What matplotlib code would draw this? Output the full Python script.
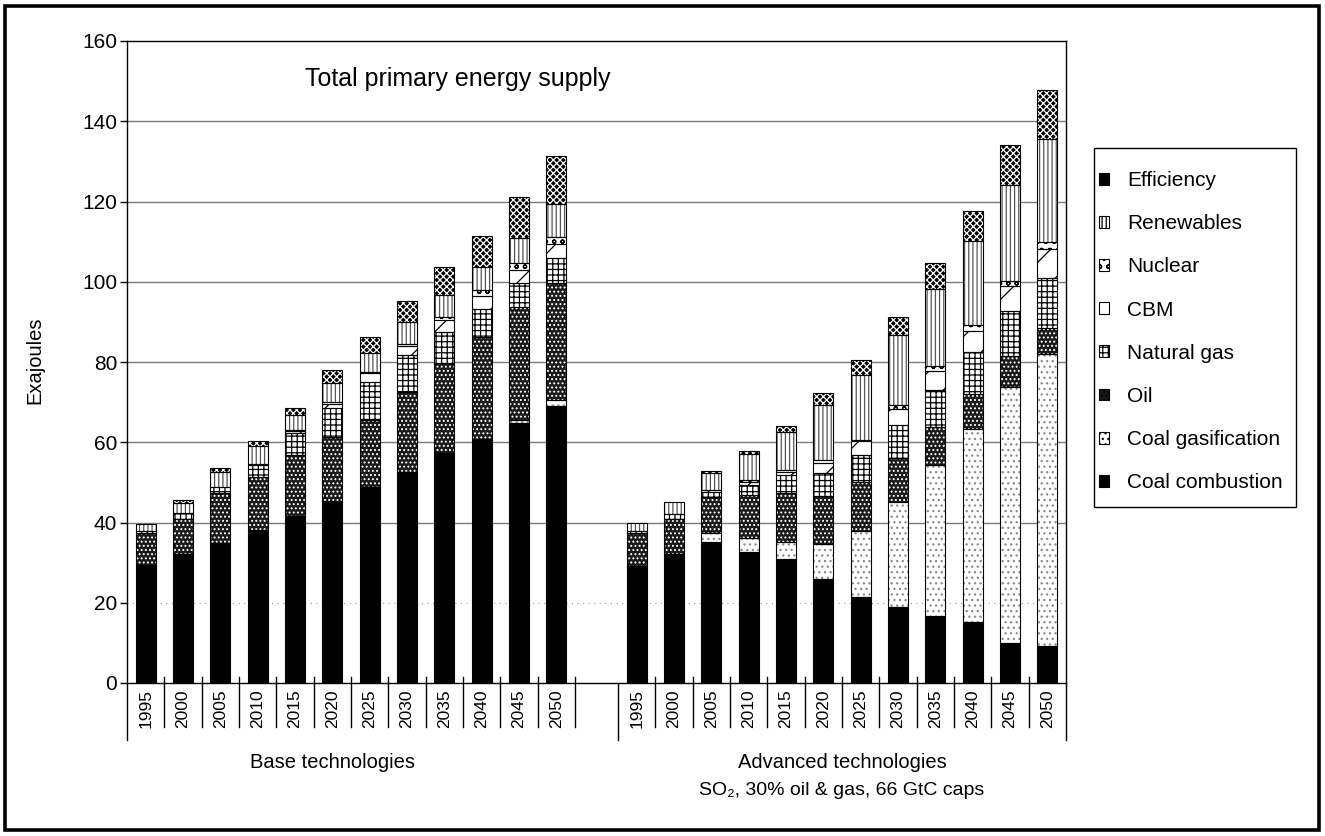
import matplotlib
matplotlib.use('Agg')
import matplotlib.pyplot as plt
from matplotlib.patches import Patch, Rectangle
from matplotlib import font_manager as fm
import numpy as np

# ---------------- data ----------------
years = ['1995', '2000', '2005', '2010', '2015', '2020',
         '2025', '2030', '2035', '2040', '2045', '2050']
series = ['Coal combustion', 'Coal gasification', 'Oil', 'Natural gas',
          'CBM', 'Nuclear', 'Renewables', 'Efficiency']
group_labels = ['Base technologies', 'Advanced technologies']
group_sublabel = 'SO\u2082, 30% oil & gas, 66 GtC caps'
title = 'Total primary energy supply'
ylabel = 'Exajoules'

# Base technologies
base_coal_comb = [29.4, 32.1, 35.0, 38.1, 41.6, 45.4, 48.9, 52.7, 57.2, 60.8, 64.7, 69.1]
base_coal_gas  = [0.0, 0.0, 0.0, 0.0, 0.0, 0.0, 0.0, 0.0, 0.0, 0.0, 0.8, 1.4]
base_oil       = [7.9, 8.7, 12.4, 13.2, 15.2, 16.0, 16.6, 19.9, 22.6, 25.5, 28.3, 29.1]
base_natgas    = [0.5, 1.5, 1.5, 3.0, 5.4, 7.1, 9.6, 9.1, 7.8, 6.9, 6.0, 6.2]
base_cbm       = [0.0, 0.0, 0.0, 0.3, 0.5, 1.0, 2.1, 2.3, 2.9, 3.2, 3.1, 3.6]
base_nuclear   = [0.0, 0.0, 0.0, 0.0, 0.3, 0.5, 0.4, 0.6, 0.8, 1.5, 1.7, 1.7]
base_renew     = [1.8, 2.6, 3.8, 4.4, 3.8, 4.8, 4.7, 5.4, 5.4, 5.7, 6.2, 8.3]
base_eff       = [0.0, 0.8, 1.0, 1.4, 1.8, 3.2, 4.0, 5.3, 6.9, 7.8, 10.4, 12.0]

# Advanced technologies
adv_coal_comb = [29.2, 32.1, 35.2, 32.7, 30.9, 25.9, 21.5, 19.0, 16.6, 15.2, 10.0, 9.2]
adv_coal_gas  = [0.0, 0.0, 2.1, 3.5, 4.3, 8.7, 16.4, 26.2, 37.8, 48.1, 63.7, 72.7]
adv_oil       = [8.3, 8.7, 9.0, 10.7, 12.1, 12.0, 12.1, 10.9, 9.4, 8.7, 7.9, 6.5]
adv_natgas    = [0.4, 1.3, 1.4, 2.4, 4.5, 5.8, 6.8, 8.1, 9.1, 10.4, 11.2, 12.6]
adv_cbm       = [0.0, 0.0, 0.3, 0.9, 0.9, 2.4, 3.4, 4.2, 4.9, 5.3, 6.1, 7.1]
adv_nuclear   = [0.0, 0.0, 0.0, 0.3, 0.4, 0.8, 0.4, 1.0, 1.2, 1.5, 1.2, 1.7]
adv_renew     = [2.0, 3.1, 4.3, 6.5, 9.5, 13.7, 16.2, 17.4, 19.1, 21.0, 24.0, 25.9]
adv_eff       = [0.0, 0.0, 0.5, 0.9, 1.5, 3.0, 3.7, 4.5, 6.6, 7.5, 10.0, 12.1]

base_data = [base_coal_comb, base_coal_gas, base_oil, base_natgas,
             base_cbm, base_nuclear, base_renew, base_eff]
adv_data = [adv_coal_comb, adv_coal_gas, adv_oil, adv_natgas,
            adv_cbm, adv_nuclear, adv_renew, adv_eff]

# ---------------- styles ----------------
# (face colour, hatch, hatch colour)
styles = {
    'Coal combustion':   ('black', None, None),
    'Coal gasification': ('white', '...', '#8a8a8a'),
    'Oil':               ('#1a1a1a', '....', 'white'),
    'Natural gas':       ('white', '+++', 'black'),
    'CBM':               ('white', '/', 'black'),
    'Nuclear':           ('white', 'oo', 'black'),
    'Renewables':        ('white', '||||', '#555555'),
    'Efficiency':        ('black', 'xxxxx', 'white'),
}

names = {f.name for f in fm.fontManager.ttflist}
REG = 'Liberation Sans' if 'Liberation Sans' in names else 'DejaVu Sans'
NARROW = 'Liberation Sans Narrow' if 'Liberation Sans Narrow' in names else REG
plt.rcParams['font.family'] = [REG, 'DejaVu Sans']
plt.rcParams['hatch.linewidth'] = 0.9

W, H = 1325, 836
fig = plt.figure(figsize=(W / 100, H / 100), dpi=100)

# outer frame
fig.patches.append(Rectangle((5 / W, 6 / H), (W - 11) / W, (H - 12) / H,
                             transform=fig.transFigure, fill=False,
                             lw=2.6, edgecolor='black'))

ax = fig.add_axes([127 / W, (H - 683) / H, (1066 - 127) / W, (683 - 41) / H])

n = len(years)
GAP = 1.15
x_base = np.arange(n) + 0.5
x_adv = np.arange(n) + n + GAP + 0.5
bw = 0.54

ax.set_xlim(0, 2 * n + GAP)
ax.set_ylim(0, 160)

# gridlines
for v in range(20, 160, 20):
    if v == 20:
        ax.axhline(v, color='#9a9a9a', lw=0.8, ls=(0, (1, 4)), zorder=0)
    else:
        ax.axhline(v, color='#7a7a7a', lw=1.0, zorder=0)


def draw_group(xs, data):
    bottom = np.zeros(len(xs))
    for name, vals in zip(series, data):
        vals = np.asarray(vals, dtype=float)
        fc, hatch, hc = styles[name]
        ax.bar(xs, vals, bw, bottom=bottom, color=fc, edgecolor='none',
               lw=0, zorder=2)
        if hatch:
            ax.bar(xs, vals, bw, bottom=bottom, facecolor='none',
                   edgecolor=hc, hatch=hatch, lw=0, zorder=3)
        mask = vals > 0
        ax.bar(xs[mask], vals[mask], bw, bottom=bottom[mask],
               facecolor='none', edgecolor='black', lw=0.8, zorder=4)
        bottom = bottom + vals


draw_group(x_base, base_data)
draw_group(x_adv, adv_data)

# spines
for s in ['left', 'right', 'top', 'bottom']:
    ax.spines[s].set_color('black')
    ax.spines[s].set_linewidth(1.0)

ax.set_xticks([])
ax.set_yticks(range(0, 161, 20))
ax.set_yticklabels([str(v) for v in range(0, 161, 20)],
                   fontsize=15, family=[NARROW, 'DejaVu Sans'])
ax.tick_params(axis='y', length=5, width=1, pad=2, direction='out')

# category axis: separators and year labels (below axis)
y_sep_top, y_sep_bot, y_long = 1.5, -11.0, -14.2
def sep(x, long=False):
    ax.plot([x, x], [y_sep_top if not long else 0, y_long if long else y_sep_bot],
            color='black', lw=1.0, clip_on=False, zorder=5)

sep(0, long=True)
for k in range(1, n + 1):
    sep(k)
sep(n + GAP, long=True)
for k in range(1, n):
    sep(n + GAP + k)
sep(2 * n + GAP, long=True)

for xs in (x_base, x_adv):
    for x, yr in zip(xs, years):
        ax.text(x, -6.4, yr, rotation=90, ha='center', va='center',
                fontsize=12.5, family=[NARROW, 'DejaVu Sans'], clip_on=False)

# group labels
ax.text(5.5, -19.8, group_labels[0], ha='center', va='center', fontsize=14.5,
        family=[NARROW, 'DejaVu Sans'], clip_on=False)
ax.text(n + GAP + n / 2, -19.8, group_labels[1], ha='center', va='center',
        fontsize=14.5, family=[NARROW, 'DejaVu Sans'], clip_on=False)
ax.text(n + GAP + n / 2, -26.8, group_sublabel, ha='center', va='center',
        fontsize=14, family=[NARROW, 'DejaVu Sans'], clip_on=False)

# title inside the plot
ax.text(4.77, 150.5, title, ha='left', va='center', fontsize=18,
        family=[NARROW, 'DejaVu Sans'])

# y label
fig.text(35 / W, 1 - 360 / H, ylabel, rotation=90, ha='center', va='center',
         fontsize=14.5, family=[NARROW, 'DejaVu Sans'])

# legend (frameless, with a separately drawn box)
fig.patches.append(Rectangle((1094 / W, 1 - 507 / H), (1296 - 1094) / W,
                             (507 - 148) / H, transform=fig.transFigure,
                             fill=True, facecolor='white', lw=1.0,
                             edgecolor='black', zorder=1))
handles = []
for name in reversed(series):
    fc, hatch, hc = styles[name]
    if hatch:
        handles.append(Patch(facecolor=fc, edgecolor='black', hatch=hatch, lw=0.8))
    else:
        handles.append(Patch(facecolor=fc, edgecolor='black', lw=0.8))
leg = fig.legend(handles, list(reversed(series)), loc='upper left',
                 bbox_to_anchor=(1099 / W, 1 - 171 / H),
                 prop={'family': [REG, 'DejaVu Sans'], 'size': 15},
                 frameon=False,
                 handlelength=0.5, handleheight=0.5, handletextpad=0.85,
                 labelspacing=1.16, borderpad=0, borderaxespad=0)
leg.set_zorder(2)

fig.savefig('out.png', dpi=100)
